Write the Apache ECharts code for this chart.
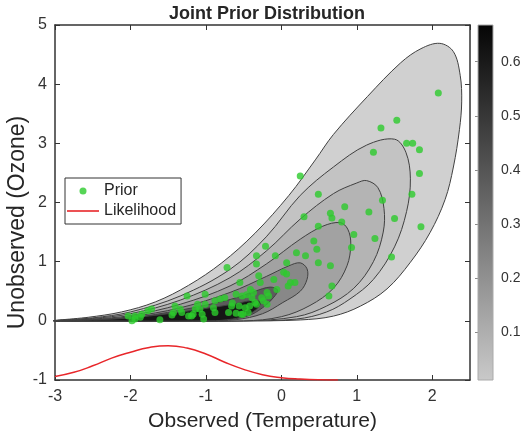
<!DOCTYPE html>
<html>
<head>
<meta charset="utf-8">
<title>Joint Prior Distribution</title>
<script src="https://cdn.jsdelivr.net/npm/echarts@6/dist/echarts.min.js"></script>
<style>
  html, body { margin: 0; padding: 0; background: #fff; }
  #chart { width: 523px; height: 442px; }
</style>
</head>
<body>
<div id="chart"></div>
<script>
// contour outlines, outer (lowest level) to inner (peak)
const contour1 = [[-3, 0], [-2.56, 0.06], [-2.12, 0.15], [-1.67, 0.32], [-1.23, 0.6], [-0.79, 0.98], [-0.35, 1.48], [0.1, 2.12], [0.45, 2.72], [0.69, 3.15], [1.14, 3.79], [1.58, 4.36], [1.85, 4.6], [2.1, 4.69], [2.28, 4.55], [2.37, 4.15], [2.39, 3.7], [2.36, 3.23], [2.28, 2.6], [2.17, 2.05], [1.97, 1.49], [1.71, 0.99], [1.4, 0.54], [1.05, 0.25], [0.69, 0.08], [0.25, 0.015], [-0.5, 0]]
const contour2 = [[-3, 0], [-2.5, 0.05], [-2, 0.15], [-1.34, 0.42], [-0.68, 0.87], [-0.2, 1.42], [0.25, 2.12], [0.69, 2.6], [1.13, 2.97], [1.5, 3.07], [1.65, 2.85], [1.71, 2.4], [1.66, 1.85], [1.5, 1.25], [1.22, 0.7], [0.91, 0.37], [0.6, 0.15], [0.2, 0.03], [-0.5, 0]]
const contour3 = [[-3, 0], [-2.5, 0.04], [-2, 0.12], [-1.34, 0.35], [-0.68, 0.73], [-0.2, 1.18], [0.25, 1.72], [0.69, 2.15], [1.0, 2.33], [1.13, 2.37], [1.28, 2.25], [1.36, 1.9], [1.35, 1.5], [1.22, 1.0], [0.96, 0.55], [0.6, 0.25], [0.2, 0.07], [-0.5, 0]]
const contour4 = [[-3, 0], [-2.5, 0.03], [-2, 0.09], [-1.34, 0.28], [-0.68, 0.59], [-0.2, 0.96], [0.25, 1.38], [0.55, 1.6], [0.78, 1.66], [0.88, 1.55], [0.92, 1.3], [0.87, 0.93], [0.69, 0.55], [0.38, 0.26], [0, 0.07], [-0.5, 0]]
const contour5 = [[-3, 0], [-2.5, 0.02], [-2, 0.07], [-1.34, 0.22], [-0.68, 0.48], [-0.2, 0.75], [0.1, 0.93], [0.25, 0.98], [0.34, 0.88], [0.34, 0.7], [0.25, 0.5], [0.02, 0.31], [-0.25, 0.12], [-0.6, 0.02], [-1, 0]]
const contour6 = [[-3, 0], [-2.5, 0.015], [-2, 0.05], [-1.34, 0.18], [-0.68, 0.36], [-0.35, 0.5], [-0.15, 0.57], [-0.05, 0.52], [-0.1, 0.4], [-0.25, 0.22], [-0.45, 0.08], [-0.8, 0.01], [-1.2, 0]]
const contour7 = [[-2.9, 0], [-2.5, 0.015], [-2, 0.05], [-1.5, 0.12], [-1, 0.21], [-0.6, 0.29], [-0.4, 0.34], [-0.28, 0.32], [-0.31, 0.22], [-0.45, 0.1], [-0.65, 0.03], [-0.95, 0]]

// samples of the prior (green dots)
const priorPoints = [
  [2.08, 3.85], [1.53, 3.39], [1.32, 3.26], [1.22, 2.85], [1.66, 3.0], [1.74, 3.0], [1.83, 2.89], [1.83, 2.49],
  [1.73, 2.14], [1.34, 2.04], [1.16, 1.84], [1.5, 1.73], [1.85, 1.59], [1.24, 1.39], [1.46, 1.08],
  [0.25, 2.45], [0.49, 2.14], [0.3, 1.76], [0.49, 1.6], [0.65, 1.82], [0.67, 1.74], [0.84, 1.93], [0.8, 1.67],
  [0.96, 1.46], [0.93, 1.24], [0.43, 1.35], [0.47, 1.21], [0.2, 1.15], [0.32, 1.1], [0.49, 0.98], [0.65, 0.93],
  [0.67, 0.59], [0.63, 0.42], [0.07, 0.98], [0.03, 0.82], [-0.08, 1.1], [-0.21, 1.26], [-0.33, 1.1], [-0.33, 0.96],
  [-0.72, 0.9], [0.12, 0.65], [0.18, 0.65], [-0.06, 0.53], [-0.19, 0.48], [-0.28, 0.65], [-0.41, 0.53],
  [-0.55, 0.65], [-0.3, 0.76], [-0.1, 0.7], [0.09, 0.59], [0.07, 0.79],
  [-0.6, 0.45], [-0.52, 0.42], [-0.46, 0.44], [-0.39, 0.39], [-0.37, 0.48], [-0.26, 0.39], [-0.17, 0.42],
  [-0.24, 0.34], [-0.19, 0.28], [-0.33, 0.28], [-0.35, 0.31], [-0.48, 0.22], [-0.56, 0.25], [-0.42, 0.25],
  [-0.6, 0.13], [-0.53, 0.11], [-0.44, 0.14], [-0.88, 0.34], [-0.81, 0.37], [-0.75, 0.39], [-1.01, 0.45],
  [-1.01, 0.28], [-1.08, 0.2], [-1.25, 0.42], [-1.17, 0.11], [-1.19, 0.08], [-1.05, 0.11], [-1.03, 0.03],
  [-1.32, 0.14], [-1.43, 0.14], [-1.45, 0.1], [-1.41, 0.25], [-1.61, 0.02], [-1.72, 0.2], [-1.77, 0.17],
  [-1.85, 0.11], [-1.87, 0.06], [-1.94, 0.08], [-1.98, 0.0], [-2.03, 0.08], [-1.94, 0.03], [-0.9, 0.22],
  [-0.88, 0.14], [-0.7, 0.14], [-0.65, 0.3], [-1.11, 0.28], [-1.14, 0.2], [-1.34, 0.2], [-1.23, 0.08],
  [-0.66, 0.25], [-0.51, 0.11]
]

// likelihood curve
const likelihoodX = [-3, -2.75, -2.5, -2.25, -2, -1.75, -1.5, -1.25, -1, -0.75, -0.5, -0.25, 0, 0.25, 0.5, 0.75]
const likelihoodY = [-0.94, -0.87, -0.76, -0.63, -0.53, -0.45, -0.42, -0.46, -0.56, -0.7, -0.82, -0.91, -0.96, -0.985, -0.997, -1.0]

// colorbar
const colorbarMin = 0.011
const colorbarMax = 0.668
const colorbarTicks = [0.1, 0.2, 0.3, 0.4, 0.5, 0.6]

const contours = [contour1, contour2, contour3, contour4, contour5, contour6, contour7]
const fillColors = ['#d0d0d0', '#c3c3c3', '#b4b4b4', '#a2a2a2', '#888888', '#5c5c5c', '#161616']
const textColor = '#262626'
const fontFamily = 'Liberation Sans, Arial, sans-serif'

const chart = echarts.init(document.getElementById('chart'))

const boxAxis = {
  min: -3, max: 2.5, interval: 1,
  axisLine: { onZero: false, lineStyle: { color: '#333', width: 1.5 } },
  axisTick: { inside: true, length: 5, lineStyle: { color: '#333' } },
  splitLine: { show: false }
}

chart.setOption({
  animation: false,
  textStyle: { fontFamily: fontFamily },
  title: {
    text: 'Joint Prior Distribution',
    left: 262, top: 0, textAlign: 'center',
    textStyle: { fontSize: 18, fontWeight: 'bold', color: textColor }
  },
  legend: {
    data: [
      { name: 'Prior', icon: 'circle' },
      { name: 'Likelihood', icon: 'path://M0,0H32V1.6H0Z' }
    ],
    orient: 'vertical',
    left: 65, top: 178,
    padding: [5, 5, 5, 2],
    itemGap: 4,
    itemWidth: 32,
    itemHeight: 7,
    itemTextGap: 2,
    backgroundColor: '#fff',
    borderColor: '#333',
    borderWidth: 1,
    textStyle: { fontSize: 16, color: textColor }
  },
  grid: [
    { left: 55, top: 25, width: 415, height: 355, outerBoundsMode: 'none', containLabel: false },
    { left: 478, top: 25, width: 15, height: 355, outerBoundsMode: 'none', containLabel: false }
  ],
  xAxis: [
    Object.assign({}, boxAxis, {
      type: 'value', gridIndex: 0, position: 'bottom',
      name: 'Observed (Temperature)', nameLocation: 'middle', nameGap: 31,
      nameTextStyle: { fontSize: 21, color: textColor },
      axisLabel: { fontSize: 16, color: '#333', margin: 9, showMaxLabel: false }
    }),
    Object.assign({}, boxAxis, {
      type: 'value', gridIndex: 0, position: 'top', axisLabel: { show: false }
    }),
    { type: 'value', gridIndex: 1, min: 0, max: 1, show: false }
  ],
  yAxis: [
    Object.assign({}, boxAxis, {
      type: 'value', gridIndex: 0, min: -1, max: 5, position: 'left',
      name: 'Unobserved (Ozone)', nameLocation: 'middle', nameGap: 26, nameMoveOverlap: false,
      nameTextStyle: { fontSize: 23, color: textColor, padding: [0, 40, 0, 0] },
      axisLabel: { fontSize: 16, color: '#333', margin: 8 }
    }),
    Object.assign({}, boxAxis, {
      type: 'value', gridIndex: 0, min: -1, max: 5, position: 'right', axisLabel: { show: false }
    }),
    {
      type: 'value', gridIndex: 1, position: 'right',
      min: colorbarMin, max: colorbarMax,
      axisLine: { show: false },
      axisTick: { inside: true, length: 3, customValues: colorbarTicks, lineStyle: { color: '#888' } },
      axisLabel: { customValues: colorbarTicks, fontSize: 14, color: '#333', margin: 8 },
      splitLine: { show: false }
    }
  ],
  series: [
    {
      name: 'contours',
      type: 'custom',
      xAxisIndex: 0, yAxisIndex: 0,
      silent: true,
      data: contours.map((c, i) => i),
      renderItem(params, api) {
        const pts = contours[params.dataIndex].map(p => api.coord(p))
        return {
          type: 'polygon',
          shape: { points: pts, smooth: 0.35 },
          style: { fill: fillColors[params.dataIndex], stroke: '#404040', lineWidth: 1 }
        }
      },
      z: 1
    },
    {
      name: 'Prior',
      type: 'scatter',
      xAxisIndex: 0, yAxisIndex: 0,
      symbol: 'circle',
      symbolSize: 7,
      itemStyle: { color: '#2ccb2c' },
      data: priorPoints,
      z: 3
    },
    {
      name: 'Likelihood',
      type: 'line',
      xAxisIndex: 0, yAxisIndex: 0,
      smooth: true,
      symbol: 'none',
      lineStyle: { color: '#e8262a', width: 1.5 },
      itemStyle: { color: '#e8262a' },
      data: likelihoodX.map((x, i) => [x, likelihoodY[i]]),
      z: 2
    },
    {
      name: 'colorbar',
      type: 'custom',
      xAxisIndex: 2, yAxisIndex: 2,
      silent: true,
      data: [[0, colorbarMin, 1, colorbarMax]],
      renderItem(params, api) {
        const p0 = api.coord([api.value(0), api.value(3)])
        const p1 = api.coord([api.value(2), api.value(1)])
        return {
          type: 'rect',
          shape: { x: p0[0], y: p0[1], width: p1[0] - p0[0], height: p1[1] - p0[1] },
          style: {
            fill: new echarts.graphic.LinearGradient(0, 0, 0, 1, [
              { offset: 0, color: '#050505' },
              { offset: 1, color: '#c9c9c9' }
            ]),
            stroke: '#aaa', lineWidth: 1
          }
        }
      }
    }
  ]
})
</script>
</body>
</html>
